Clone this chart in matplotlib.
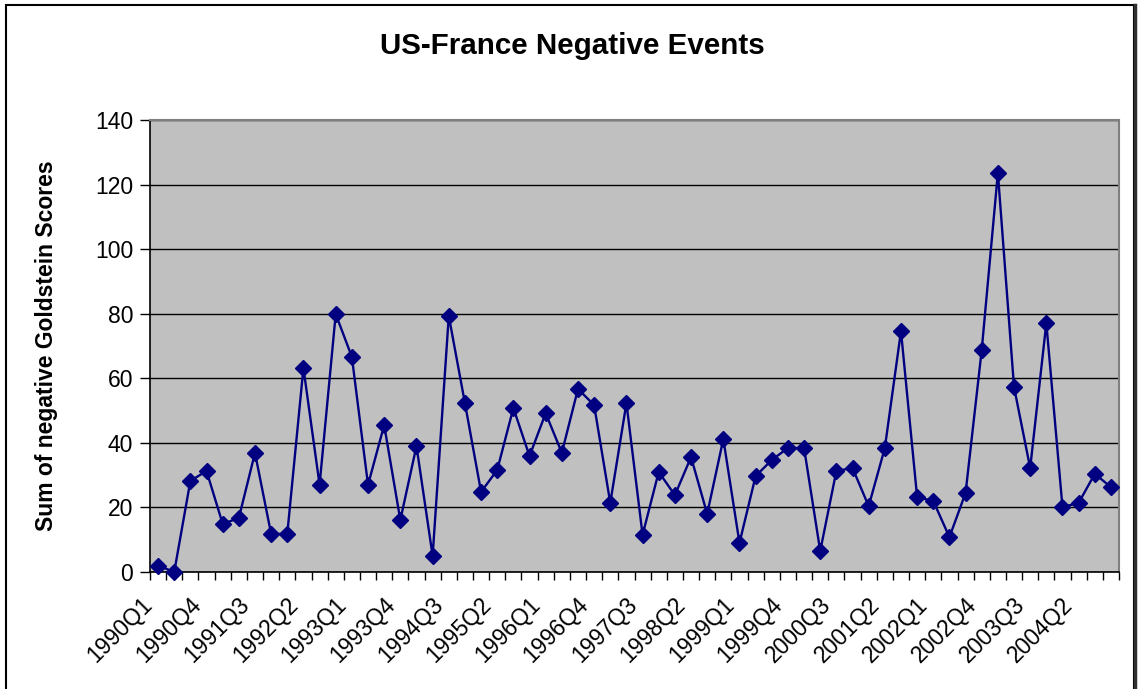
import matplotlib
matplotlib.use('Agg')
import matplotlib.pyplot as plt
from matplotlib.patches import Rectangle
from matplotlib.lines import Line2D
from matplotlib.transforms import ScaledTranslation
import numpy as np

plt.rcParams['font.family'] = ['Liberation Sans', 'DejaVu Sans']

# quarters 1990Q1 .. 2004Q4
quarters = [f'{y}Q{q}' for y in range(1990, 2005) for q in range(1, 5)]

# sum of negative Goldstein scores per quarter
scores = [2.0, 0.0, 28.2, 31.3, 14.9, 16.7, 36.9, 11.8, 11.8, 63.2,
          27.0, 79.9, 66.6, 27.0, 45.5, 16.1, 39.0, 5.0, 79.3, 52.3,
          24.8, 31.6, 50.8, 35.9, 49.2, 36.9, 56.7, 51.7, 21.4, 52.3,
          11.5, 31.0, 23.8, 35.6, 18.0, 41.2, 9.0, 29.7, 34.7, 38.4,
          38.4, 6.5, 31.3, 32.2, 20.4, 38.4, 74.6, 23.2, 22.0, 10.8,
          24.5, 68.8, 123.6, 57.3, 32.2, 77.1, 20.1, 21.4, 30.4, 26.3]

y_ticks = [0, 20, 40, 60, 80, 100, 120, 140]

fig = plt.figure(figsize=(11.38, 6.89), dpi=100)
ax = fig.add_axes([150/1138, 1 - 572/689, 969/1138, 452/689])

x = np.arange(len(quarters))
ax.set_facecolor('#C0C0C0')
ax.plot(x, scores, color='#000080', linewidth=1.7, marker='D', markersize=8,
        markerfacecolor='#000080', markeredgecolor='#000080', zorder=3,
        clip_on=False)

ax.set_xlim(-0.5, len(quarters) - 0.5)
ax.set_ylim(0, 140)
ax.set_yticks(y_ticks)
ax.yaxis.grid(True, color='black', linewidth=1)
ax.set_axisbelow(True)

# category boundaries as tick marks, labels every 3rd quarter
ax.set_xticks(np.arange(-0.5, len(quarters), 1), minor=True)
ax.set_xticks(x[::3])
ax.set_xticklabels(quarters[::3], rotation=45, ha='right', va='center',
                   rotation_mode='anchor', fontsize=16.5)
ax.tick_params(axis='x', which='major', length=0, pad=21)
ax.tick_params(axis='x', which='minor', length=6, width=1, color='black')
ax.tick_params(axis='y', length=7, width=1, labelsize=16.5, pad=5)
shift = ScaledTranslation(-9/100, 0, fig.dpi_scale_trans)
for lbl in ax.get_xticklabels():
    lbl.set_transform(lbl.get_transform() + shift)

for side in ['top', 'right']:
    ax.spines[side].set_color('#808080')
    ax.spines[side].set_linewidth(1.5)
for side in ['left', 'bottom']:
    ax.spines[side].set_color('black')
    ax.spines[side].set_linewidth(1.2)

ax.set_ylabel('Sum of negative Goldstein Scores', fontsize=16.5, fontweight='bold', va='center')
ax.yaxis.set_label_coords(-103/969, 0.5)
fig.suptitle('US-France Negative Events', fontsize=21.3, fontweight='bold',
             x=572/1138, y=1 - 46/689, va='center')

# chart area border
fig.patches.append(Rectangle((6/1138, -0.05), 1128/1138, 1.05 - 5/689,
                             transform=fig.transFigure, fill=False,
                             edgecolor='black', linewidth=1.5))
fig.lines.append(Line2D([1135/1138, 1135/1138], [0, 1 - 5/689], transform=fig.transFigure,
                        color='#303030', linewidth=2.5))

plt.savefig('out.png', dpi=100)
